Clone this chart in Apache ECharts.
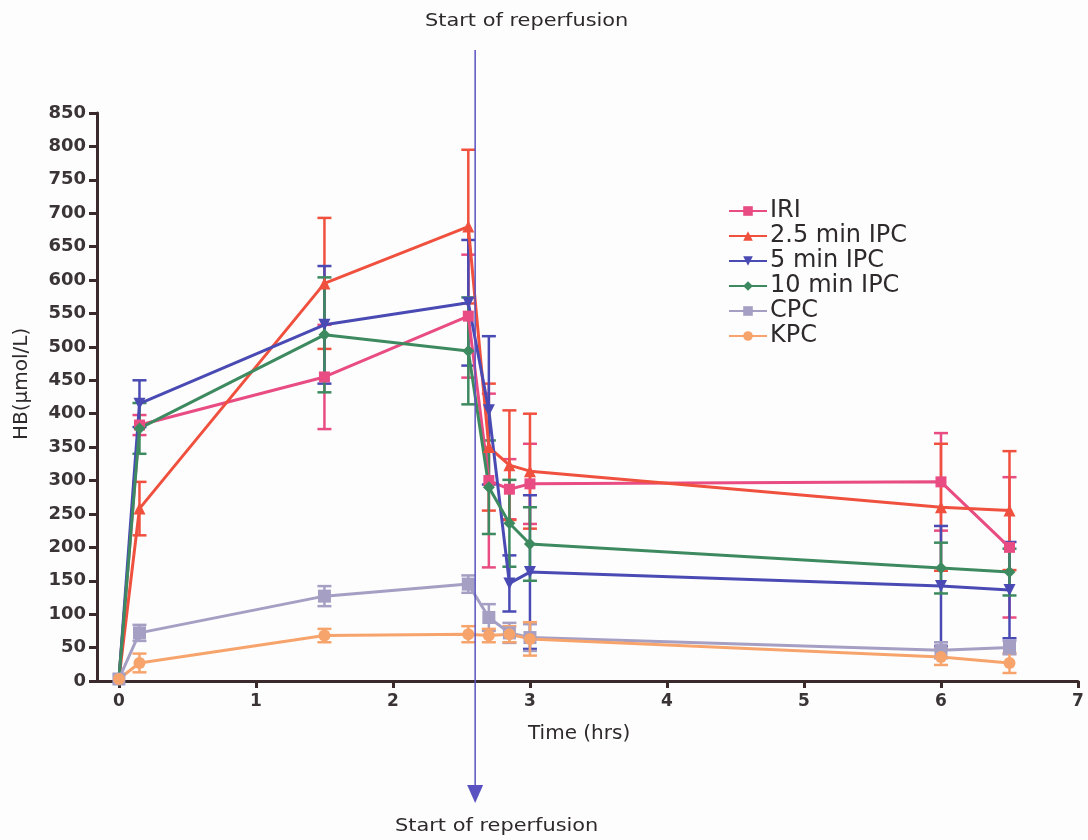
<!DOCTYPE html>
<html lang="en">
<head>
    <meta charset="UTF-8">
    <title>HB</title>
    <script src="https://cdn.jsdelivr.net/npm/echarts@6/dist/echarts.min.js"></script>
    <style>
        body{ margin:0; background:#fdfdfd; }
    </style>
</head>
<body>
<div id="main" style="width: 1088px;height:840px;"></div>
<script type="text/javascript">
// 时间点 (hrs)
var times = [0, 0.15, 1.5, 2.55, 2.7, 2.85, 3, 6, 6.5];
var xTicks = [0, 1, 2, 3, 4, 5, 6, 7];
var reperfusionTime = 2.6;

var iriVals  = [3, 383, 455, 546, 300, 287, 295, 298, 200];
var iriErr   = [0, 15, 78, 92, 130, 45, 60, 73, 105];
var ipc25Vals = [3, 258, 595, 680, 350, 323, 314, 260, 255];
var ipc25Err  = [0, 40, 98, 115, 95, 82, 86, 95, 89];
var ipc5Vals = [3, 415, 533, 566, 405, 146, 163, 142, 136];
var ipc5Err  = [0, 35, 88, 94, 111, 42, 115, 90, 72];
var ipc10Vals = [3, 378, 518, 494, 290, 236, 205, 169, 163];
var ipc10Err  = [0, 38, 86, 80, 70, 65, 55, 38, 35];
var cpcVals = [3, 72, 127, 145, 95, 72, 65, 46, 50];
var cpcErr  = [0, 12, 15, 13, 20, 15, 20, 12, 10];
var kpcVals = [3, 27, 68, 70, 68, 70, 63, 36, 27];
var kpcErr  = [0, 14, 10, 12, 10, 12, 25, 12, 15];

var groups = [
    {name: 'IRI', vals: iriVals, err: iriErr, color: '#e84c82', symbol: 'rect', size: 11},
    {name: '2.5 min IPC', vals: ipc25Vals, err: ipc25Err, color: '#f0503e', symbol: 'triangle', size: 12},
    {name: '5 min IPC', vals: ipc5Vals, err: ipc5Err, color: '#4a4ab4', symbol: 'triangle', rotate: 180, size: 12},
    {name: '10 min IPC', vals: ipc10Vals, err: ipc10Err, color: '#3e8a60', symbol: 'diamond', size: 12},
    {name: 'CPC', vals: cpcVals, err: cpcErr, color: '#a59fc4', symbol: 'rect', size: 13},
    {name: 'KPC', vals: kpcVals, err: kpcErr, color: '#f7a46c', symbol: 'circle', size: 12}
];

var font = "'DejaVu Sans', 'Liberation Sans', Arial, sans-serif";
var axisColor = '#3b2a2c';
var textColor = '#2e2a2c';

function errorRender(color) {
    return function (params, api) {
        var x = api.value(0);
        var lo = api.coord([x, api.value(1)]);
        var hi = api.coord([x, api.value(2)]);
        var w = 7;
        var st = {stroke: color, lineWidth: 2.5};
        return {
            type: 'group',
            children: [
                {type: 'line', shape: {x1: hi[0], y1: hi[1], x2: lo[0], y2: lo[1]}, style: st},
                {type: 'line', shape: {x1: hi[0] - w, y1: hi[1], x2: hi[0] + w, y2: hi[1]}, style: st},
                {type: 'line', shape: {x1: lo[0] - w, y1: lo[1], x2: lo[0] + w, y2: lo[1]}, style: st}
            ]
        };
    };
}

var series = [];
groups.forEach(function (g) {
    var errData = [];
    for (var i = 0; i < times.length; i++) {
        if (g.err[i] > 0) {
            errData.push([times[i], Math.max(0, g.vals[i] - g.err[i]), g.vals[i] + g.err[i]]);
        }
    }
    series.push({
        name: g.name + ' err',
        type: 'custom',
        renderItem: errorRender(g.color),
        data: errData,
        z: 2,
        silent: true
    });
});
groups.forEach(function (g) {
    series.push({
        name: g.name,
        type: 'line',
        data: times.map(function (t, i) { return [t, g.vals[i]]; }),
        symbol: g.symbol,
        symbolSize: g.size,
        symbolRotate: g.rotate || 0,
        lineStyle: {color: g.color, width: 3},
        itemStyle: {color: g.color},
        z: 3
    });
});

// 再灌注竖线
series.push({
    name: 'reperfusion',
    type: 'custom',
    clip: false,
    silent: true,
    data: [[reperfusionTime, 0]],
    z: 5,
    renderItem: function (params, api) {
        var p = api.coord([api.value(0), 0]);
        return {
            type: 'group',
            children: [
                {type: 'line', shape: {x1: p[0], y1: 50, x2: p[0], y2: 792}, style: {stroke: '#5a52c0', lineWidth: 1.5}},
                {type: 'polygon', shape: {points: [[p[0] - 8, 785], [p[0] + 8, 785], [p[0], 803]]}, style: {fill: '#5a52c0'}}
            ]
        };
    }
});

var myChart = echarts.init(document.getElementById('main'));
myChart.setOption({
    animation: false,
    backgroundColor: '#fdfdfd',
    grid: {left: 97, right: 10, top: 113, bottom: 159},
    legend: {
        orient: 'vertical',
        left: 723,
        top: 194,
        itemWidth: 38,
        itemHeight: 12,
        itemGap: 1,
        data: groups.map(function (g) { return g.name; }),
        textStyle: {fontFamily: font, fontSize: 24, lineHeight: 22, color: textColor, padding: [0, 0, 0, -2]}
    },
    xAxis: {
        type: 'value',
        min: -0.16,
        max: 7,
        splitLine: {show: false},
        axisLine: {lineStyle: {color: axisColor, width: 3}},
        axisTick: {customValues: xTicks, lineStyle: {color: axisColor, width: 3}, length: 7},
        axisLabel: {customValues: xTicks, fontFamily: font, fontSize: 17, fontWeight: 'bold', color: '#3a3436', margin: 12}
    },
    yAxis: {
        type: 'value',
        min: 0,
        max: 850,
        interval: 50,
        splitLine: {show: false},
        axisLine: {show: true, onZero: false, lineStyle: {color: axisColor, width: 3}},
        axisTick: {show: true, lineStyle: {color: axisColor, width: 3}, length: 8},
        axisLabel: {fontFamily: font, fontSize: 18, fontWeight: 'bold', color: '#3a3436', margin: 11}
    },
    graphic: [
        {type: 'text', left: 425, top: 12, scaleX: 1.16, style: {text: 'Start of reperfusion', font: '18px ' + font, fill: textColor}},
        {type: 'text', left: 395, top: 817, scaleX: 1.16, style: {text: 'Start of reperfusion', font: '18px ' + font, fill: textColor}},
        {type: 'text', left: 528, top: 724, style: {text: 'Time (hrs)', font: '20px ' + font, fill: textColor}},
        {type: 'text', x: 12, y: 440, rotation: Math.PI / 2, style: {text: 'HB(\u03bcmol/L)', font: '20px ' + font, fill: textColor}}
    ],
    series: series
});
</script>
</body>
</html>
